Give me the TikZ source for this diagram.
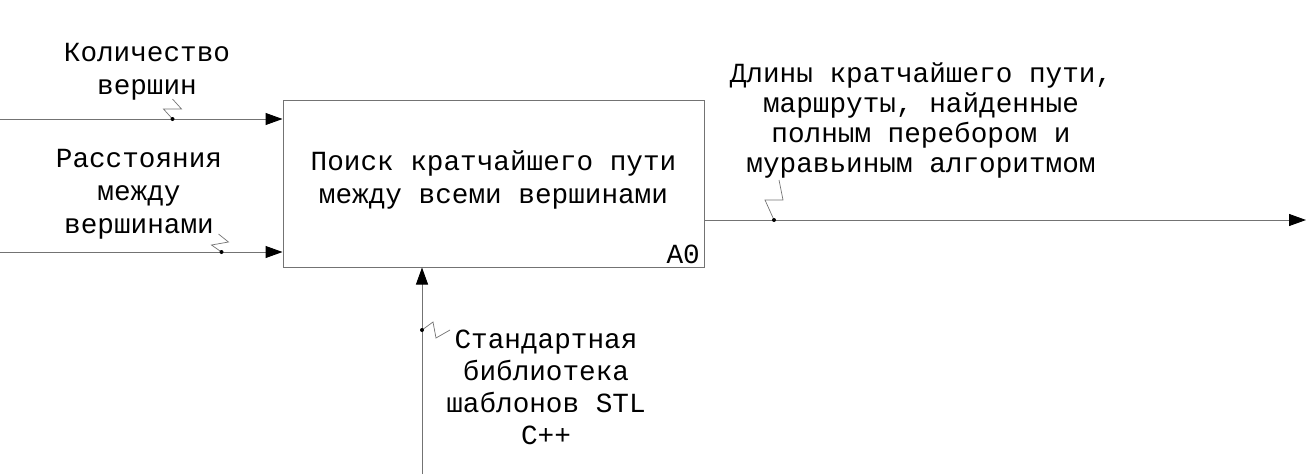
\documentclass[tikz,border=0pt]{standalone}
\usepackage{fontspec}
\usetikzlibrary{arrows.meta}
\newfontfamily\idefmono{Liberation Mono}
\newcommand{\lblfont}[1]{\idefmono\fontsize{27.7}{#1}\selectfont}
\definecolor{linegray}{HTML}{737373}
\begin{document}
\begin{tikzpicture}[x=1pt,y=-1pt,
  arrowline/.style={draw=linegray,line width=1pt,
    -{Triangle[length=17pt,width=12pt,color=black]}},
  squiggle/.style={draw=linegray,line width=0.7pt},
  dotmark/.style={fill=black},
  funcbox/.style={draw=linegray,line width=1pt,minimum width=421pt,
    minimum height=167pt,inner sep=0pt},
  lbl/.style={font=\lblfont{33},align=center,inner sep=0pt,anchor=north}]
\useasboundingbox (0,0) rectangle (1308,474);

% function block A0
\node[funcbox] (box) at (493.5,183.5) {};
\node[lbl] (boxtext) at (493.5,146.9) {\strut Поиск кратчайшего пути\\между всеми вершинами};
\node[font=\lblfont{33},inner sep=0pt,anchor=base east] (num) at (700,263) {A0};

% inputs
\coordinate (in1) at (0,119);
\coordinate (in2) at (0,252);
\draw[arrowline] (in1) -- (in1 -| box.west);
\draw[arrowline] (in2) -- (in2 -| box.west);
\node[lbl] (in1lbl) at (147,37.9) {\strut Количество\\вершин};
\node[lbl] (in2lbl) at (139,143.9) {\strut Расстояния\\между\\вершинами};

% control
\coordinate (ctrl) at (422,474);
\draw[arrowline] (ctrl) -- (ctrl |- box.south);
\node[lbl,font=\lblfont{32}] (ctrllbl) at (546,325.6) {\strut Стандартная\\библиотека\\шаблонов STL\\C++};

% output
\coordinate (out) at (1306,220);
\draw[arrowline] (out -| box.east) -- (out);
\node[lbl,font=\lblfont{30}] (outlbl) at (921,61) {\strut Длины кратчайшего пути,\\маршруты, найденные\\полным перебором и\\муравьиным алгоритмом};

% label leaders
\coordinate (d1) at (172.5,119);
\coordinate (d2) at (221.5,252);
\coordinate (d3) at (422,330);
\coordinate (d4) at (774,220);
\draw[squiggle] (d1) -- ++(-9,-10) -- ++(18,0) -- ++(-9,-10);
\draw[squiggle] (d2) -- ++(-10,-7) -- ++(17,-3) -- ++(-10,-8);
\draw[squiggle] (d3) -- ++(11,-8) -- ++(3,16) -- ++(14,-8);
\draw[squiggle] (d4) -- ++(-9,-20) -- ++(18,0) -- ++(-4,-20);
\foreach \d in {d1,d2,d3,d4} \fill[dotmark] (\d) circle (2pt);
\end{tikzpicture}
\end{document}
